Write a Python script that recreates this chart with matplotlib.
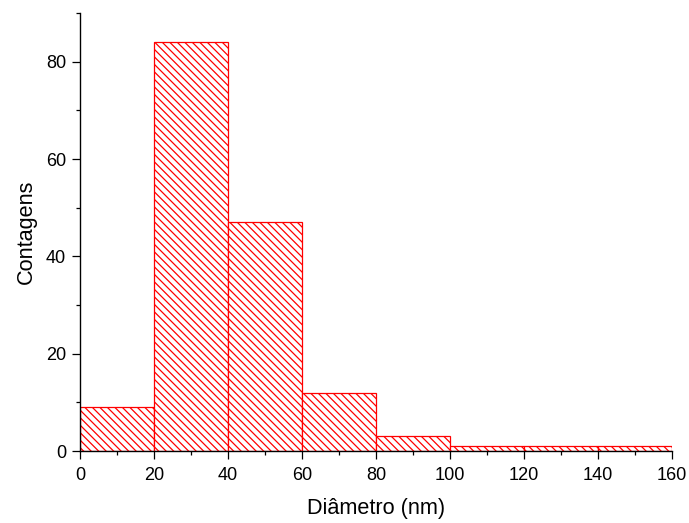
import numpy as np
import matplotlib.pyplot as plt
from matplotlib.ticker import MultipleLocator

# Histogram bins (nm) and counts
bin_left = [0, 20, 40, 60, 80, 100, 120, 140]
bin_width = 20
counts = [9, 84, 47, 12, 3, 1, 1, 1]

plt.rcParams['font.family'] = ['Liberation Sans', 'DejaVu Sans']
plt.rcParams['hatch.linewidth'] = 1.0

dpi = 90
fig = plt.figure(figsize=(689 / dpi, 523 / dpi), dpi=dpi)
ax = fig.add_axes([80 / 689, 1 - 451 / 523, 592 / 689, 438 / 523])

ax.bar(bin_left, counts, width=bin_width, align='edge',
       facecolor='white', edgecolor='red', hatch='\\\\\\\\', linewidth=1.0)

ax.set_xlim(0, 160)
ax.set_ylim(0, 90)
ax.xaxis.set_major_locator(MultipleLocator(20))
ax.xaxis.set_minor_locator(MultipleLocator(10))
ax.yaxis.set_major_locator(MultipleLocator(20))
ax.yaxis.set_minor_locator(MultipleLocator(10))

for side in ['top', 'right']:
    ax.spines[side].set_visible(False)
for side in ['left', 'bottom']:
    ax.spines[side].set_linewidth(1.1)

ax.tick_params(which='major', direction='out', length=6.2, width=1.0, labelsize=14.5, pad=5)
ax.tick_params(which='minor', direction='out', length=3.2, width=1.0)
ax.tick_params(axis='x', which='major', pad=7)

ax.set_xlabel('Diâmetro (nm)', fontsize=17.3, labelpad=11)
ax.set_ylabel('Contagens', fontsize=17.3, labelpad=7)

fig.savefig('out.png', dpi=dpi)
